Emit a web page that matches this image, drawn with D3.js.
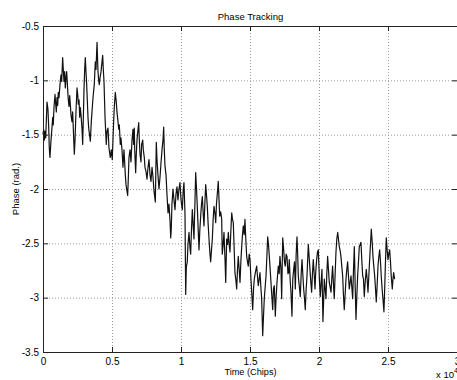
<!DOCTYPE html>
<html><head><meta charset="utf-8">
<script src="https://cdn.jsdelivr.net/npm/d3@7"></script>
<style>
body{margin:0;background:#fff}
svg{display:block}
text{font-family:"Liberation Sans",Arial,Helvetica,sans-serif;fill:#000}
</style>
</head><body>
<svg id="chart" width="457" height="380"></svg>
<script>
// ---- data ----
const timeChips = [0,50,95,145,195,290,360,415,455,505,580,630,705,745,795,870,920,965,1015,1065,1110,1160,1230,1305,1355,1425,1470,1520,1570,1615,1665,1715,1790,1835,1885,1935,1980,2030,2100,2150,2195,2270,2320,2390,2465,2515,2560,2610,2660,2705,2755,2825,2875,2920,2970,3020,3065,3115,3165,3210,3260,3310,3430,3500,3550,3600,3645,3715,3790,3840,3915,3985,4035,4080,4130,4205,4275,4325,4370,4420,4495,4585,4635,4710,4780,4875,4950,5020,5070,5125,5165,5240,5310,5360,5435,5485,5530,5600,5650,5725,5795,5870,5920,5965,6015,6085,6135,6180,6230,6305,6375,6450,6520,6570,6615,6645,6715,6760,6810,6885,6935,6980,7030,7100,7150,7225,7270,7340,7390,7465,7535,7610,7680,7755,7825,7900,7970,8045,8140,8210,8260,8330,8405,8480,8550,8625,8695,8745,8790,8840,8915,8985,9060,9130,9200,9255,9295,9345,9420,9490,9565,9635,9710,9780,9855,9925,10000,10095,10165,10215,10290,10340,10385,10455,10505,10580,10650,10700,10760,10820,10880,10940,11015,11065,11125,11180,11245,11305,11360,11425,11485,11545,11610,11665,11740,11790,11845,11905,11970,12030,12100,12150,12210,12270,12330,12390,12465,12515,12570,12645,12700,12755,12805,12875,12950,12990,13055,13115,13190,13240,13310,13370,13430,13490,13550,13625,13675,13730,13790,13855,13910,13985,14035,14095,14150,14215,14275,14345,14400,14455,14515,14580,14635,14695,14760,14820,14875,14940,15000,15070,15125,15195,15255,15310,15400,15485,15545,15600,15665,15725,15795,15845,15920,15975,16035,16100,16160,16230,16280,16340,16400,16460,16520,16595,16645,16700,16760,16835,16885,16955,17050,17115,17170,17245,17295,17370,17440,17500,17555,17620,17680,17750,17800,17845,17920,17970,18040,18100,18165,18225,18285,18345,18405,18455,18500,18575,18645,18710,18770,18825,18890,18950,19005,19070,19130,19180,19225,19290,19345,19405,19465,19525,19585,19650,19710,19765,19830,19890,19950,20035,20090,20160,20215,20285,20340,20385,20445,20505,20565,20625,20685,20745,20805,20870,20925,20985,21050,21105,21170,21230,21290,21355,21410,21470,21535,21590,21650,21715,21770,21830,21895,21955,22015,22075,22135,22195,22255,22320,22375,22440,22500,22560,22620,22680,22740,22800,22860,22920,22985,23040,23100,23165,23225,23280,23345,23425,23490,23550,23610,23670,23730,23790,23855,23910,23970,24035,24095,24150,24215,24275,24330,24395,24455,24510,24575,24635,24705,24760,24800,24875,24940,25000,25055,25120,25180,25235,25310,25360,25410,25480];
const phaseRad = [-1.50,-1.45,-1.55,-1.47,-1.53,-1.20,-1.27,-1.44,-1.62,-1.71,-1.55,-1.47,-1.34,-1.41,-1.25,-1.13,-1.22,-1.29,-1.16,-1.23,-1.11,-1.16,-1.04,-0.95,-1.01,-0.79,-0.90,-1.01,-0.92,-1.07,-0.98,-0.92,-1.09,-1.18,-1.24,-1.14,-1.22,-1.32,-1.38,-1.29,-1.44,-1.68,-1.55,-1.29,-1.07,-1.13,-1.22,-1.18,-1.34,-1.25,-1.32,-1.44,-1.59,-1.36,-1.09,-0.90,-0.79,-0.92,-1.04,-1.18,-1.34,-1.44,-1.56,-1.38,-1.29,-1.20,-1.13,-1.04,-0.83,-0.90,-0.65,-0.92,-1.00,-1.04,-0.98,-0.92,-0.83,-0.77,-0.90,-1.01,-1.34,-1.59,-1.47,-1.44,-1.62,-1.71,-1.64,-1.73,-1.55,-1.36,-1.25,-1.11,-1.20,-1.29,-1.38,-1.45,-1.41,-1.59,-1.53,-1.64,-1.80,-1.64,-1.76,-1.87,-1.96,-2.02,-2.06,-1.91,-1.71,-1.64,-1.75,-1.55,-1.45,-1.59,-1.44,-1.64,-1.85,-1.68,-1.55,-1.45,-1.39,-1.55,-1.68,-1.75,-1.59,-1.55,-1.64,-1.71,-1.80,-1.84,-1.91,-1.80,-1.73,-1.87,-1.93,-1.80,-1.89,-2.02,-2.12,-1.57,-1.73,-1.87,-2.00,-1.89,-1.76,-1.64,-1.55,-1.43,-1.64,-1.79,-1.87,-2.05,-2.22,-2.14,-2.28,-2.45,-2.37,-2.14,-2.00,-2.10,-2.19,-2.05,-1.98,-2.10,-2.00,-1.94,-2.10,-2.19,-2.00,-1.94,-2.23,-2.97,-2.72,-2.67,-2.51,-2.40,-2.54,-2.60,-2.37,-2.19,-2.33,-2.46,-2.10,-1.85,-2.00,-2.16,-2.37,-2.56,-2.39,-2.25,-2.14,-2.07,-2.23,-2.34,-2.10,-1.96,-2.05,-2.16,-2.33,-2.46,-2.60,-2.67,-2.56,-2.46,-2.28,-2.16,-2.23,-2.31,-2.14,-2.02,-1.93,-2.10,-2.25,-2.21,-2.28,-2.60,-2.51,-2.40,-2.65,-2.86,-2.46,-2.51,-2.40,-2.51,-2.58,-2.35,-2.22,-2.28,-2.31,-2.56,-2.77,-2.85,-2.92,-2.74,-2.62,-2.74,-2.86,-2.65,-2.53,-2.42,-2.34,-2.42,-2.28,-2.46,-2.62,-2.67,-2.71,-2.60,-2.65,-2.83,-2.95,-3.11,-2.92,-2.83,-2.76,-2.71,-2.81,-2.89,-2.83,-2.77,-2.92,-3.01,-3.35,-3.18,-3.01,-2.90,-2.80,-2.60,-2.44,-2.51,-2.62,-2.74,-2.86,-3.01,-3.11,-2.92,-2.89,-3.17,-3.01,-2.86,-2.71,-2.78,-2.62,-2.74,-3.01,-2.45,-2.56,-2.67,-2.71,-2.60,-2.62,-2.78,-2.77,-2.65,-2.86,-2.95,-3.17,-2.83,-2.74,-2.67,-2.92,-2.60,-2.44,-2.60,-2.80,-2.90,-2.99,-2.78,-2.65,-2.78,-2.92,-3.01,-3.11,-2.92,-2.80,-2.65,-2.51,-2.63,-2.74,-2.85,-2.95,-2.78,-2.65,-2.78,-2.92,-2.76,-2.65,-2.58,-2.56,-2.85,-2.99,-2.85,-2.74,-3.22,-3.01,-2.83,-2.92,-3.01,-2.78,-2.62,-2.74,-2.86,-2.90,-2.95,-2.83,-2.71,-2.88,-3.01,-2.78,-2.58,-2.46,-2.40,-2.46,-2.53,-2.57,-2.62,-2.71,-2.80,-2.97,-3.11,-2.97,-2.83,-2.74,-2.67,-2.80,-2.92,-2.86,-2.80,-2.90,-3.01,-2.74,-2.53,-2.88,-3.20,-2.99,-2.80,-2.67,-2.53,-2.51,-2.49,-2.65,-2.80,-2.83,-2.99,-2.86,-2.74,-2.83,-2.95,-2.80,-2.65,-2.51,-2.37,-2.49,-2.62,-2.71,-2.80,-2.92,-3.04,-2.88,-2.71,-2.63,-2.56,-2.67,-2.80,-2.92,-3.01,-3.13,-2.92,-2.74,-2.45,-2.56,-2.65,-2.60,-2.56,-2.67,-2.80,-2.92,-2.83,-2.77,-2.83];
const xTicks = [0,5000,10000,15000,20000,25000,30000];
const yTicks = [-3.5,-3,-2.5,-2,-1.5,-1,-0.5];
const titleText = "Phase Tracking";
const xLabelText = "Time (Chips)";
const yLabelText = "Phase (rad.)";
const xExponent = "4";

// ---- layout ----
const svg = d3.select("#chart");
const L = 43, R = 457, T = 26, B = 352;
const x = d3.scaleLinear().domain([0, 30000]).range([L, R]);
const y = d3.scaleLinear().domain([-3.5, -0.5]).range([B, T]);

svg.append("rect").attr("width", 457).attr("height", 380).attr("fill", "#fff");

// grid (dotted)
const gridX = svg.append("g").attr("transform", `translate(0,${B})`)
  .call(d3.axisBottom(x).tickValues(xTicks).tickSize(-(B - T)).tickFormat(""));
const gridY = svg.append("g").attr("transform", `translate(${L},0)`)
  .call(d3.axisLeft(y).tickValues(yTicks).tickSize(-(R - L)).tickFormat(""));
[gridX, gridY].forEach(g => {
  g.select(".domain").remove();
  g.selectAll(".tick line").attr("stroke", "#9a9a9a").attr("stroke-dasharray", "1,2");
});

// data line
const pts = timeChips.map((t, i) => [t, phaseRad[i]]);
svg.append("path").datum(pts)
  .attr("fill", "none").attr("stroke", "#111").attr("stroke-width", 1.2)
  .attr("stroke-linejoin", "round")
  .attr("d", d3.line().x(d => x(d[0])).y(d => y(d[1])));

// axes with inward ticks
const fmtX = d => String(d / 10000);
const fmtY = d => String(d);
const axB = svg.append("g").attr("transform", `translate(0,${B})`)
  .call(d3.axisBottom(x).tickValues(xTicks).tickSizeInner(-5).tickSizeOuter(0).tickPadding(6).tickFormat(fmtX));
const axT = svg.append("g").attr("transform", `translate(0,${T})`)
  .call(d3.axisTop(x).tickValues(xTicks).tickSizeInner(-5).tickSizeOuter(0).tickFormat(""));
const axL = svg.append("g").attr("transform", `translate(${L},0)`)
  .call(d3.axisLeft(y).tickValues(yTicks).tickSizeInner(-5).tickSizeOuter(0).tickPadding(4).tickFormat(fmtY));
const axR = svg.append("g").attr("transform", `translate(${R},0)`)
  .call(d3.axisRight(y).tickValues(yTicks).tickSizeInner(-5).tickSizeOuter(0).tickFormat(""));
[axB, axT, axL, axR].forEach(g => {
  g.select(".domain").attr("stroke", "#222");
  g.selectAll(".tick line").attr("stroke", "#222");
  g.selectAll(".tick text").attr("font-size", 10).attr("font-family", '"Liberation Sans",Arial,sans-serif').attr("fill", "#000");
});

// texts
svg.append("text").attr("x", (L + R) / 2 + 0.5).attr("y", 20).attr("text-anchor", "middle")
  .attr("font-size", 9.5).text(titleText);
svg.append("text").attr("x", (L + R) / 2 + 0.5).attr("y", 375).attr("text-anchor", "middle")
  .attr("font-size", 9.2).text(xLabelText);
svg.append("text").attr("transform", `translate(19,${(T + B) / 2}) rotate(-90)`).attr("text-anchor", "middle")
  .attr("font-size", 9.5).text(yLabelText);
const ex = svg.append("text").attr("x", 436).attr("y", 378).attr("font-size", 9.5);
ex.append("tspan").text("x 10");
ex.append("tspan").attr("dy", -5).attr("font-size", 7).text(xExponent);
</script>
</body></html>
